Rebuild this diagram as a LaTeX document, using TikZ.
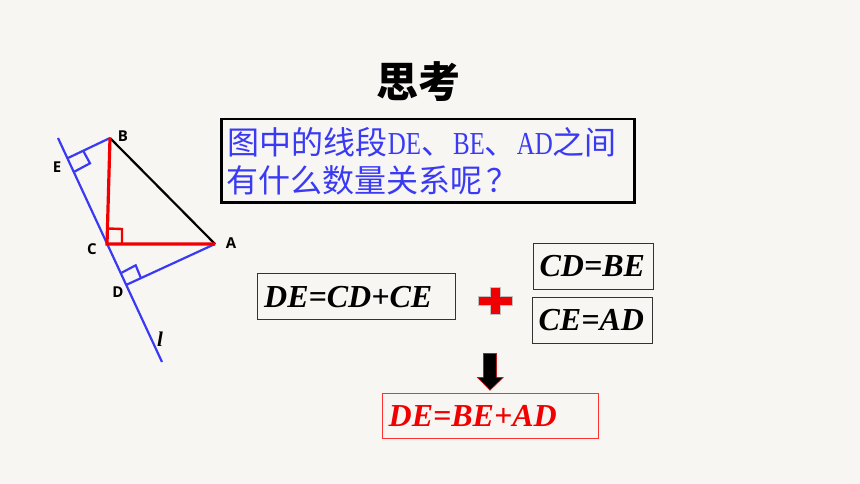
\documentclass[tikz,border=0pt]{standalone}
\usepackage{fontspec}
\setmainfont{Liberation Serif}
\setsansfont{Open Sans}
\newfontfamily\cjkfont{Noto Sans CJK SC}
\newfontfamily\narrowfont[FakeStretch=0.78]{Liberation Serif}
\definecolor{paper}{HTML}{F7F6F2}
\definecolor{lineblue}{HTML}{3A3AF5}
\definecolor{linered}{HTML}{F00000}
\definecolor{boxred}{HTML}{FF3030}
\tikzset{
    eqbox/.style={draw=black!80, line width=1.3pt, anchor=north west, inner xsep=6.5pt, inner ysep=0pt, align=left,
        font=\fontsize{32}{32}\selectfont\bfseries\itshape},
    ptlabel/.style={font=\fontsize{15}{15}\selectfont\sffamily\bfseries, inner sep=0pt},
    blueline/.style={lineblue, line width=2.2pt},
    redline/.style={linered, line width=3.2pt},
}

\begin{document}
\begin{tikzpicture}[x=1pt, y=-1pt]
    \fill [paper] (0, 0) rectangle (860, 484); % page
    \useasboundingbox (0, 0) rectangle (860, 484);

    % title
    \node at (418.5, 82) [font=\fontsize{42}{42}\selectfont\cjkfont\bfseries, inner sep=0pt] (title) {思考};

    % question
    \node at (220, 118) [draw=black, line width=2.5pt, anchor=north west, minimum width=413, minimum height=83.5,
        text width=400, inner xsep=6.5pt, inner ysep=0pt, align=left, text=lineblue,
        font=\fontsize{32}{38}\selectfont] (question)
        {\cjkfont 图中的线段\narrowfont DE\cjkfont 、\narrowfont BE\cjkfont 、\narrowfont AD\cjkfont 之间\\\hspace*{-1pt}\cjkfont 有什么数量关系呢\kern4pt ？};

    % triangle points
    \coordinate (B) at (110, 138);
    \coordinate (C) at (107, 244);
    \coordinate (A) at (215, 244);
    \coordinate (E) at (68, 158);
    \coordinate (D) at (126, 285);
    \coordinate (ltop) at (58, 138);
    \coordinate (lbot) at (162, 362);

    % line and perpendiculars
    \draw [blueline] (ltop) -- (lbot);
    \draw [blueline] (B) -- (E);
    \draw [blueline] (A) -- (D);
    \draw [blueline] (83.3, 151) -- (90, 163.3) -- (74.3, 171.7); % right angle at E
    \draw [blueline] (121.7, 272.7) -- (135.7, 265.3) -- (141, 278.3); % right angle at D

    % triangle
    \draw [black, line width=2.2pt] (B) -- (A);
    \draw [redline] (B) -- (C) -- (A);
    \draw [linered, line width=2.4pt] (108, 228.5) -- (122, 229) -- (122, 244); % right angle at C

    % labels
    \node at (123,   136) [ptlabel] (labelb) {B};
    \node at ( 57,   167) [ptlabel] (labele) {E};
    \node at ( 92,   249) [ptlabel] (labelc) {C};
    \node at (118,   292) [ptlabel] (labeld) {D};
    \node at (231,   243) [ptlabel] (labela) {A};
    \node at (160,   339) [font=\fontsize{21}{21}\selectfont\bfseries\itshape, inner sep=0pt] (labell) {l};

    % equations
    \node at (257,   273)   [eqbox, minimum width=197.5, minimum height=46, text width=184.5] (decdce) {DE=CD+CE};
    \node at (532.5, 243)   [eqbox, minimum width=120,   minimum height=45.5, text width=107] (cdbe) {CD=BE};
    \node at (531.5, 296.5) [eqbox, minimum width=120,   minimum height=46, text width=107] (cead) {CE=AD};
    \node at (381.5, 392.5) [eqbox, draw=boxred, text=linered, minimum width=216, minimum height=45, text width=203] (debead) {DE=BE+AD};

    % plus
    \fill [linered, draw=black!25, line width=0.4pt] (490, 287) -- (500, 287) -- (500, 296) -- (512, 296) -- (512, 305)
        -- (500, 305) -- (500, 314.5) -- (490, 314.5) -- (490, 305) -- (478.5, 305) -- (478.5, 296) -- (490, 296) -- cycle;

    % down arrow
    \fill [black, draw=linered, line width=0.5pt] (483.3, 353.3) -- (496.7, 353.3) -- (496.7, 377.3) -- (503.3, 377.3)
        -- (490, 390.3) -- (477.3, 377.3) -- (483.3, 377.3) -- cycle;
\end{tikzpicture}
\end{document}
